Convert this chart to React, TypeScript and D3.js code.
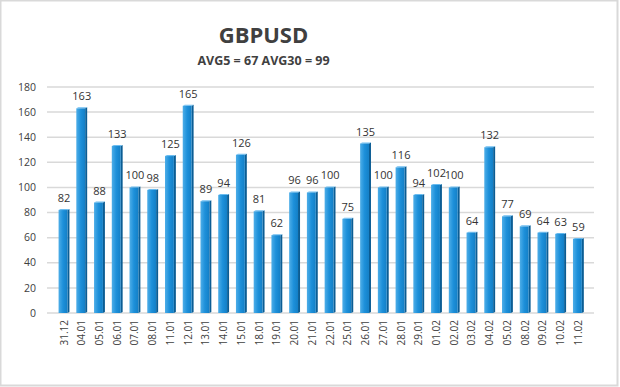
import React from "react";
import * as d3 from "d3";

// daily volatility, points
const dates = [
  "31.12", "04.01", "05.01", "06.01", "07.01", "08.01", "11.01", "12.01",
  "13.01", "14.01", "15.01", "18.01", "19.01", "20.01", "21.01", "22.01",
  "25.01", "26.01", "27.01", "28.01", "29.01", "01.02", "02.02", "03.02",
  "04.02", "05.02", "08.02", "09.02", "10.02", "11.02",
];
const values = [
  82, 163, 88, 133, 100, 98, 125, 165, 89, 94, 126, 81, 62, 96, 96, 100,
  75, 135, 100, 116, 94, 102, 100, 64, 132, 77, 69, 64, 63, 59,
];
const yTicks = [0, 20, 40, 60, 80, 100, 120, 140, 160, 180];

const W = 620;
const H = 387;
const font = "'Open Sans', 'Noto Sans', sans-serif";

export default function App() {
  const x = d3.scaleBand().domain(dates).range([49.7, 590.7]).padding(0.5);
  const y = d3.scaleLinear().domain([0, 180]).range([313, 87]);
  const bw = x.bandwidth();
  const side = 2;

  return (
    <svg width={W} height={H} style={{ position: "absolute", left: 0, top: 0 }}>
      <defs>
        <linearGradient id="front" x1="0" x2="1" y1="0" y2="0">
          <stop offset="0" stopColor="#4eaee8" />
          <stop offset="0.5" stopColor="#1d90da" />
          <stop offset="1" stopColor="#137fc6" />
        </linearGradient>
      </defs>
      <rect x={0.5} y={0.5} width={W - 3} height={H - 2} fill="#fff" stroke="#d9d9d9" strokeWidth={2} />
      <text x={263.5} y={43} textAnchor="middle" fontFamily={font} fontWeight="bold" fontSize={22} fill="#404040">
        GBPUSD
      </text>
      <text x={263.5} y={65} textAnchor="middle" fontFamily={font} fontWeight="bold" fontSize={12.5} fill="#404040">
        AVG5 = 67 AVG30 = 99
      </text>
      {yTicks.map((t) => (
        <g key={t}>
          <line x1={47} x2={594} y1={y(t)} y2={y(t)} stroke="#d9d9d9" strokeWidth={1.5} />
          <text x={36} y={y(t)} dy="0.35em" textAnchor="end" fontFamily={font} fontSize={10.5} fill="#404040">
            {t}
          </text>
        </g>
      ))}
      {values.map((v, i) => {
        const bx = x(dates[i]) as number;
        const top = y(v);
        return (
          <g key={dates[i]}>
            <polygon
              points={`${bx + bw},${top} ${bx + bw + side},${top - 1} ${bx + bw + side},${y(0) - 1} ${bx + bw},${y(0)}`}
              fill="#0b5d94"
            />
            <polygon
              points={`${bx},${top} ${bx + side},${top - 1} ${bx + bw + side},${top - 1} ${bx + bw},${top}`}
              fill="#6cbdf0"
            />
            <rect x={bx} y={top} width={bw} height={y(0) - top} fill="url(#front)" />
            <text x={bx + bw / 2 + 1} y={top - 8} textAnchor="middle" fontFamily={font} fontSize={11} fill="#333">
              {v}
            </text>
            <text
              transform={`translate(${bx + bw / 2 + 1},320) rotate(-90)`}
              textAnchor="end"
              dy="0.35em"
              fontFamily={font}
              fontSize={10}
              fill="#404040"
            >
              {dates[i]}
            </text>
          </g>
        );
      })}
    </svg>
  );
}
